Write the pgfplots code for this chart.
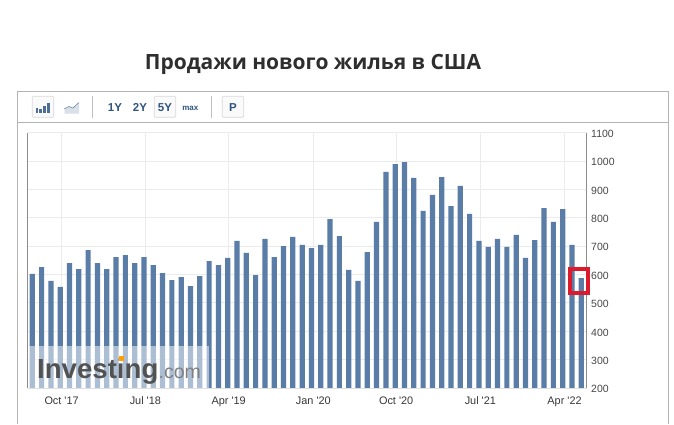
\documentclass[border=0pt]{standalone}
\usepackage{fontspec}
\usepackage{pgfplots}
\usepackage{pgfplotstable}
\pgfplotsset{compat=1.18}
\newfontfamily\lab{Liberation Sans}
\newfontfamily\ttl{Open Sans}
\definecolor{barc}{HTML}{5A7DA8}
\definecolor{btn}{HTML}{2F5580}
\definecolor{frm}{HTML}{B4B4B4}
\definecolor{redbox}{HTML}{DC1A2C}
\pgfplotstableread{
k v
0 602
1 626
2 577
3 556
4 640
5 619
6 686
7 640
8 619
9 661
10 668
11 640
12 661
13 633
14 605
15 580
16 591
17 559
18 594
19 647
20 633
21 658
22 718
23 676
24 598
25 725
26 661
27 700
28 732
29 704
30 693
31 704
32 795
33 735
34 616
35 577
36 679
37 785
38 961
39 989
40 996
41 940
42 824
43 880
44 943
45 841
46 912
47 813
48 718
49 697
50 725
51 697
52 739
53 658
54 721
55 834
56 785
57 830
58 704
59 587
}\sales
\begin{document}
\begin{tikzpicture}[x=1pt,y=1pt]
\path[use as bounding box,fill=white] (0pt,0pt) rectangle (674pt,424pt);
\begin{axis}[
  at={(27.5pt,36pt)},anchor=south west,
  scale only axis,width=559.2pt,height=255.5pt,
  xmin=-0.516,xmax=59.58,ymin=200,ymax=1100,
  ytick={200,300,...,1100},
  xtick={3.15,12.15,21.1,30.2,39.1,48.15,57.2},
  xticklabels={Oct '17,Jul '18,Apr '19,Jan '20,Oct '20,Jul '21,Apr '22},
  yticklabel pos=right,
  /pgf/number format/assume math mode=true,
  /pgf/number format/1000 sep={},
  tick label style={font=\lab\fontsize{10.5}{12}\selectfont,text=black!72},
  x tick label style={yshift=-5.5pt,font=\lab\fontsize{10.9}{12}\selectfont,text=black!78},
  y tick label style={xshift=1pt,yshift=-1.3pt},
  major tick length=0pt,
  grid=major,
  major grid style={black!8,line width=0.7pt},
  axis line style={draw=none},
  axis on top=false,
]
\addplot[ybar,bar width=5.2pt,bar shift=0pt,fill=barc,draw=none] table[x=k,y=v] {\sales};
\end{axis}
\begin{scope}[shift={(0pt,424pt)},x=1pt,y=-1pt]
  % axis lines
  \draw[black!45,line width=0.7pt] (27.5,132.5)--(27.5,388);
  \draw[black!45,line width=0.7pt] (586.7,132.5)--(586.7,388);
  \draw[black!12,line width=0.7pt] (27.5,388.3)--(586.7,388.3);
  % frame
  \draw[frm,line width=0.8pt] (17.5,424)--(17.5,91.7)--(668.3,91.7)--(668.3,424);
  \draw[frm,line width=0.8pt] (17.5,122.3)--(668.3,122.3);
  % title
  \node[font=\ttl\bfseries\fontsize{21}{24}\selectfont,text=black!82,anchor=center] at (313,64) {Продажи нового жилья в США};
  % buttons
  \foreach \a in {32.3,154.3,222.3}{
    \draw[black!15,fill=black!2,rounded corners=1pt,line width=0.7pt] (\a,96.2) rectangle (\a+21.4,117.2);
  }
  \fill[btn!85] (35.5,108) rectangle (38,113);
  \fill[btn!85] (39.3,109) rectangle (41.8,113);
  \fill[btn!85] (43.1,106) rectangle (45.6,113);
  \fill[btn!85] (46.9,103) rectangle (49.7,113);
  \fill[btn!18] (64.5,113.5)--(64.5,109)--(69,106.5)--(73,108)--(79,103)--(79,113.5)--cycle;
  \draw[btn!70,line width=0.6pt] (64,109)--(69,106.5)--(73,108)--(79,102.5);
  \draw[black!25,line width=0.8pt] (92.3,96)--(92.3,117.5);
  \draw[black!25,line width=0.8pt] (211.3,96)--(211.3,117.5);
  \foreach \xx/\t in {115/1Y,140/2Y,165/5Y,233/P}{
    \node[font=\lab\bfseries\fontsize{11.5}{12}\selectfont,text=btn,anchor=center] at (\xx,107.5) {\t};
  }
  \node[font=\lab\bfseries\fontsize{8}{9}\selectfont,text=btn,anchor=center] at (190.3,108.5) {max};
  % watermark
  \fill[white,opacity=0.5] (28,346) rectangle (208.5,388);
  \node[font=\lab\bfseries\fontsize{27.6}{28}\selectfont,text=black!68,anchor=base west,inner sep=0pt] at (37,378) {Investing};
  \node[font=\lab\fontsize{19.5}{20}\selectfont,text=black!50,anchor=base west,inner sep=0pt] at (158.5,378) {.com};
  \fill[orange!75!yellow] (118.5,355.5) rectangle (123.5,360.5);
  % red frame
  \draw[redbox,line width=3.8pt] (570.2,269.3) rectangle (588,293.3);
\end{scope}
\end{tikzpicture}
\end{document}
